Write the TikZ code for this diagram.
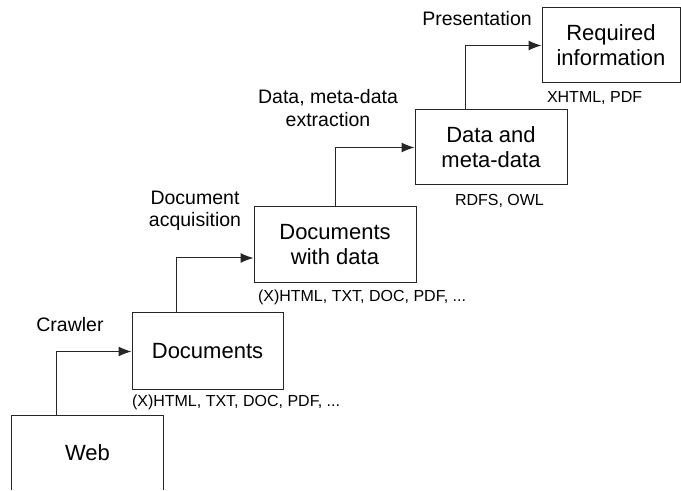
\documentclass[tikz,border=0pt]{standalone}
\usepackage{fontspec}
\setmainfont{Liberation Sans}
\usepackage{tikz}
\usetikzlibrary{positioning}
\usetikzlibrary{calc}
\usetikzlibrary{arrows.meta}
\tikzset{every picture/.style={line width=0.5pt,draw=black!85}}

\begin{document}
\begin{tikzpicture}[x=0.5pt,y=-0.5pt,box/.style={draw, inner sep=0pt, align=center, font=\fontsize{11}{12.5}\selectfont},lbl/.style={align=center, inner sep=0pt, font=\fontsize{9.75}{11.25}\selectfont},fmt/.style={anchor=west, inner sep=0pt, font=\fontsize{8}{9}\selectfont},arr/.style={-{Latex[length=6.5pt,width=5pt]}}]
\clip (0,0) rectangle (681,491);
\node (web) at (87.5,453) [box,draw=none,minimum width=75.5pt,minimum height=37pt] {Web};
\draw (web.south west) -- (web.north west) -- (web.north east) -- (web.south east);
\node (docs) at (207.5,351.5) [box,minimum width=75.5pt,minimum height=38.5pt] {Documents};
\node (docsdata) at (335,245) [box,minimum width=81pt,minimum height=38pt] {Documents\\with data};
\node (meta) at (491,147.5) [box,minimum width=76pt,minimum height=37.5pt] {Data and\\meta-data};
\node (req) at (611,45.5) [box,minimum width=69pt,minimum height=37.5pt] {Required\\information};
% formats below the boxes
\node (f1) at ($(docs.south west)+(0,12)$) [fmt] {(X)HTML, TXT, DOC, PDF, ...};
\node (f2) at ($(docsdata.south west)+(4,14)$) [fmt] {(X)HTML, TXT, DOC, PDF, ...};
\node (f3) at ($(meta.south west)+(40,15)$) [fmt] {RDFS, OWL};
\node (f4) at ($(req.south west)+(5,15)$) [fmt] {XHTML, PDF};
% steps
\node (crawl) at (70,325) [lbl] {Crawler};
\node (acq) at (195,211) [lbl] {Document\\acquisition};
\node (extr) at (328,108) [lbl] {Data, meta-data\\extraction};
\node (pres) at (477,19) [lbl] {Presentation};
\draw[arr] ($(web.north west)+(45,0)$) |- (docs.west);
\draw[arr] ($(docs.north west)+(45,0)$) |- ($(docsdata.west)+(0,13)$);
\draw[arr] (docsdata.north) |- (meta.west);
\draw[arr] ($(meta.north west)+(51,0)$) |- (req.west);
\end{tikzpicture}
\end{document}
